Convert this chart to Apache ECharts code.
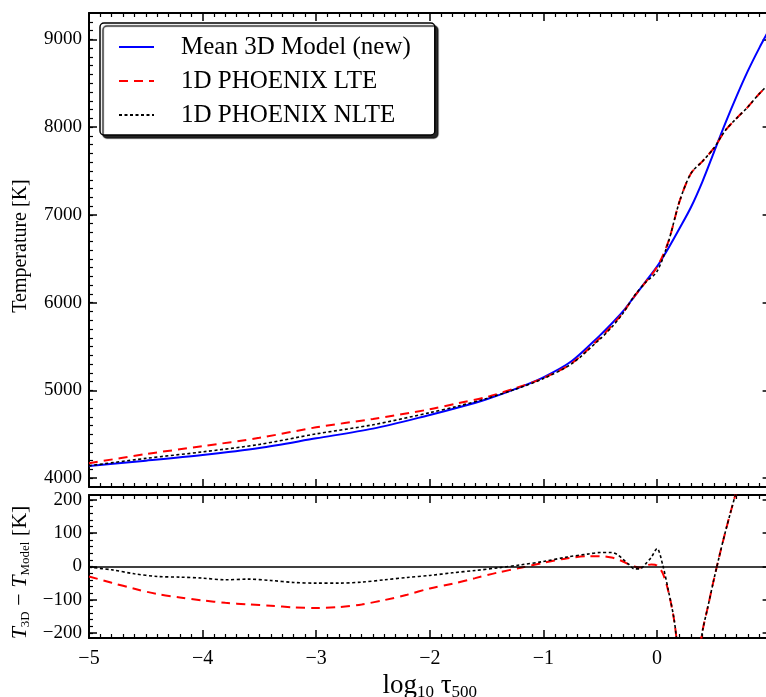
<!DOCTYPE html>
<html>
<head>
<meta charset="utf-8">
<script src="https://cdn.jsdelivr.net/npm/echarts@6/dist/echarts.min.js"></script>
<style>html,body{margin:0;padding:0;background:#fff}#c{width:766px;height:697px}</style>
</head>
<body>
<div id="c"></div>
<script>
// ---- data ----
const tauTop = [-5.0,-4.5,-4.0,-3.5,-3.0,-2.5,-2.0,-1.75,-1.5,-1.25,-1.0,-0.75,-0.5,-0.4,-0.3,-0.2,-0.1,0.0,0.1,0.2,0.3,0.4,0.5,0.6,0.7,0.8,0.9,1.0];
const temp3D   = [4140,4200,4265,4345,4455,4565,4720,4805,4900,5015,5150,5335,5630,5760,5900,6070,6240,6410,6620,6850,7090,7380,7710,8040,8350,8640,8900,9140];
const tempLTE  = [4170,4275,4365,4460,4580,4675,4785,4855,4925,5025,5140,5310,5600,5735,5885,6070,6235,6405,6695,7160,7475,7610,7760,7960,8100,8230,8380,8510];
const tempNLTE = [4142,4226,4300,4385,4505,4609,4747,4822,4908,5012,5135,5305,5588,5718,5878,6077,6232,6356,6692,7160,7475,7610,7760,7960,8100,8230,8380,8510];

const tauDiff = [-5.0,-4.8,-4.6,-4.4,-4.2,-4.0,-3.8,-3.6,-3.4,-3.2,-3.0,-2.8,-2.6,-2.4,-2.2,-2.0,-1.8,-1.6,-1.4,-1.2,-1.0,-0.8,-0.6,-0.5,-0.4,-0.35,-0.3,-0.25,-0.2,-0.15,-0.1,-0.05,0.0,0.05,0.1,0.15,0.2,0.25,0.3,0.35,0.4,0.45,0.5,0.55,0.6,0.65,0.7,0.75,0.8,0.9,1.0];
const diffLTE  = [-30,-49,-67,-83,-93,-102,-109,-114,-118,-123,-125,-122,-114,-101,-85,-66,-52,-35,-18,-4,11,24,31,31,27,22,15,7,0,-3,3,6,3,-20,-75,-160,-290,-360,-385,-310,-195,-118,-40,33,102,166,228,290,350,470,590];
const diffNLTE = [-2,-10,-22,-30,-32,-35,-40,-38,-42,-48,-50,-50,-47,-40,-33,-27,-19,-12,-4,5,15,28,38,42,42,36,22,7,-7,-7,8,28,54,5,-72,-158,-290,-360,-385,-310,-195,-118,-40,33,102,166,228,290,350,470,590];

const xTicks = [-5,-4,-3,-2,-1,0,1];
const tempTicks = [4000,5000,6000,7000,8000,9000];
const diffTicks = [-200,-100,0,100,200];
const names = ['Mean 3D Model (new)','1D PHOENIX LTE','1D PHOENIX NLTE'];

// ---- helpers ----
const FONT = 'Liberation Serif';
const zip = (xs, ys) => xs.map((x, i) => [x, ys[i]]);
const fmtMinus = v => String(v).replace('-', '\u2212');
function range(a, b, step) { const r = []; for (let v = a; v <= b + 1e-9; v += step) r.push(Math.round(v * 1000) / 1000); return r; }

function xAx(grid, pos, labels, extra) {
  return Object.assign({
    type: 'value', gridIndex: grid, position: pos, min: xTicks[0], max: xTicks[xTicks.length - 1], interval: 1,
    splitLine: {show: false},
    axisLine: {show: true, onZero: false, lineStyle: {color: '#000', width: 2}},
    axisTick: {show: true, inside: true, length: 8, lineStyle: {color: '#000', width: 1.5}},
    minorTick: {show: true, splitNumber: 10, length: 4, lineStyle: {color: '#000', width: 1.2}},
    axisLabel: labels ? {show: true, showMinLabel: true, showMaxLabel: true, hideOverlap: false, color: '#000', fontFamily: FONT, fontSize: 20, margin: 11, formatter: fmtMinus} : {show: false}
  }, extra || {});
}
function yAx(grid, pos, min, max, ticks, len, line, labels, extra) {
  return Object.assign({
    type: 'value', gridIndex: grid, position: pos, min: min, max: max,
    splitLine: {show: false},
    axisLine: {show: line, onZero: false, lineStyle: {color: '#000', width: 2}},
    axisTick: {show: true, inside: true, length: len, customValues: ticks, lineStyle: {color: '#000', width: len > 5 ? 1.5 : 1.2}},
    axisLabel: labels ? {show: true, customValues: ticks, color: '#000', fontFamily: FONT, fontSize: 19, margin: 7, formatter: fmtMinus} : {show: false}
  }, extra || {});
}

const tMin = 3900, tMax = 9300, dMin = -215, dMax = 215;
const tMinor = range(4000, 9200, 100);
const dMinor = range(-200, 200, 20);

const subRich = {
  i: {fontFamily: FONT, fontSize: 22, fontStyle: 'italic', verticalAlign: 'top', color: '#000'},
  n: {fontFamily: FONT, fontSize: 22, verticalAlign: 'top', color: '#000'},
  s: {fontFamily: FONT, fontSize: 13, verticalAlign: 'top', padding: [10, 0, 0, 0], color: '#000'},
  a: {fontFamily: FONT, fontSize: 27, verticalAlign: 'top', color: '#000'},
  b: {fontFamily: FONT, fontSize: 17, verticalAlign: 'top', padding: [12, 0, 0, 0], color: '#000'}
};

const lineBase = {type: 'line', symbol: 'none', smooth: 0.3, animation: false, z: 3};

const option = {
  animation: false,
  backgroundColor: '#fff',
  grid: [
    {left: 89, top: 13, width: 681.6, height: 474, outerBoundsMode: 'none', containLabel: false},
    {left: 89, top: 495, width: 681.6, height: 143, outerBoundsMode: 'none', containLabel: false}
  ],
  xAxis: [
    xAx(0, 'bottom', false),
    xAx(0, 'top', false),
    xAx(1, 'bottom', true, {
      name: '{a|log}{b|10}{a| \u03c4}{b|500}', nameLocation: 'middle', nameGap: 34,
      nameTextStyle: {rich: subRich}
    }),
    xAx(1, 'top', false)
  ],
  yAxis: [
    yAx(0, 'left', tMin, tMax, tempTicks, 8, true, true, {
      name: 'Temperature [K]', nameLocation: 'middle', nameRotate: 90, nameGap: 58,
      nameTextStyle: {fontFamily: FONT, fontSize: 20, color: '#000', padding: [0, 0, 0, 8]}
    }),
    yAx(0, 'left', tMin, tMax, tMinor, 4, false, false),
    yAx(0, 'right', tMin, tMax, tempTicks, 8, true, false),
    yAx(0, 'right', tMin, tMax, tMinor, 4, false, false),
    yAx(1, 'left', dMin, dMax, diffTicks, 8, true, true, {
      name: '{i|T}{s|3D}{n| \u2212 }{i|T}{s|Model}{n| [K]}', nameLocation: 'middle', nameRotate: 90, nameGap: 50,
      nameTextStyle: {rich: subRich, padding: [0, 12, 0, 0]}
    }),
    yAx(1, 'left', dMin, dMax, dMinor, 4, false, false),
    yAx(1, 'right', dMin, dMax, diffTicks, 8, true, false),
    yAx(1, 'right', dMin, dMax, dMinor, 4, false, false)
  ],
  legend: {
    data: names, orient: 'vertical', left: 100, top: 23,
    itemWidth: 35, itemHeight: 14, itemGap: 8,
    padding: [11, 24, 7, 18],
    backgroundColor: '#fff', borderColor: '#000', borderWidth: 1.5, borderRadius: 4,
    shadowColor: 'rgba(0,0,0,0.85)', shadowOffsetX: 3, shadowOffsetY: 3, shadowBlur: 1,
    itemStyle: {opacity: 0, borderWidth: 0},
    textStyle: {fontFamily: FONT, fontSize: 25, color: '#000', lineHeight: 26, padding: [0, 0, 0, 22]}
  },
  series: [
    Object.assign({}, lineBase, {name: names[0], xAxisIndex: 0, yAxisIndex: 0, color: '#0000ff',
      lineStyle: {color: '#0000ff', width: 2}, data: zip(tauTop, temp3D)}),
    Object.assign({}, lineBase, {name: names[1], xAxisIndex: 0, yAxisIndex: 0, color: '#ff0000',
      lineStyle: {color: '#ff0000', width: 2, type: [9, 6]}, data: zip(tauTop, tempLTE)}),
    Object.assign({}, lineBase, {name: names[2], xAxisIndex: 0, yAxisIndex: 0, color: '#000',
      lineStyle: {color: '#000', width: 1.6, type: [3, 2.5]}, data: zip(tauTop, tempNLTE)}),
    Object.assign({}, lineBase, {name: names[1], xAxisIndex: 2, yAxisIndex: 4, color: '#ff0000',
      lineStyle: {color: '#ff0000', width: 2, type: [9, 6]}, data: zip(tauDiff, diffLTE),
      markLine: {silent: true, symbol: ['none', 'none'], label: {show: false}, animation: false,
        lineStyle: {color: '#000', width: 1.6, type: 'solid'}, data: [{yAxis: 0}]}}),
    Object.assign({}, lineBase, {name: names[2], xAxisIndex: 2, yAxisIndex: 4, color: '#000',
      lineStyle: {color: '#000', width: 1.6, type: [3, 2.5]}, data: zip(tauDiff, diffNLTE)})
  ]
};

const chart = echarts.init(document.getElementById('c'), null, {renderer: 'canvas'});
chart.setOption(option);
</script>
</body>
</html>
